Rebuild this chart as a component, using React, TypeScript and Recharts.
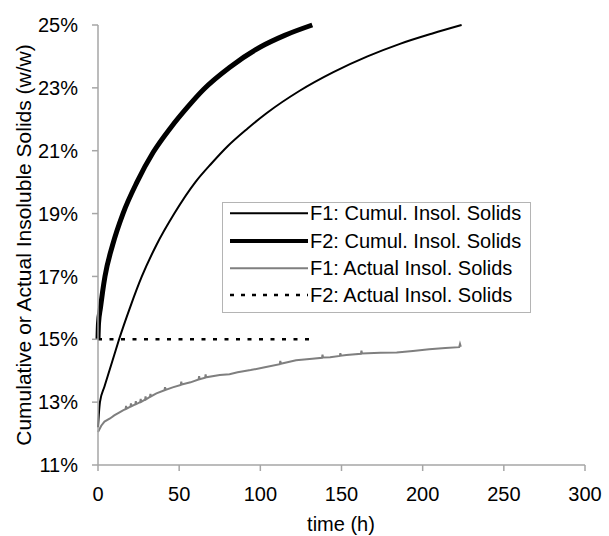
import React from 'react';
import { LineChart, Line, XAxis, YAxis, Legend, Label } from 'recharts';

// time (h) and % w/w
const f1CumulT = [0, 0.5, 1.2, 4, 7, 10, 13, 20, 27, 36, 47, 60, 70, 80, 92, 104, 124, 145, 166, 186, 206, 224];
const f1CumulV = [12.2, 12.6, 13.0, 13.5, 14.0, 14.5, 15.0, 16.05, 17.0, 18.0, 19.0, 20.0, 20.6, 21.15, 21.7, 22.2, 22.9, 23.5, 24.0, 24.4, 24.73, 25.0];

const f2CumulT = [0, 0.3, 1.5, 2.8, 4.3, 9, 15.4, 24, 34, 45, 55, 65, 81, 100, 115, 132];
const f2CumulV = [15.0, 15.5, 16.0, 16.5, 17.0, 18.0, 19.0, 20.0, 20.95, 21.75, 22.38, 22.95, 23.65, 24.3, 24.67, 25.0];

const f1ActualT = [0, 2, 4, 7.4, 10, 13, 15.4, 17, 17.3, 17.6, 20, 20.3, 20.6, 23, 23.3, 23.6, 26, 26.3, 26.6, 29, 29.3, 29.6, 32, 32.3, 32.6, 36, 41, 41.3, 41.6, 46, 51, 51.3, 51.6, 57, 62, 62.3, 62.6, 66, 66.3, 66.6, 75, 81, 86, 94, 102, 112, 112.3, 112.6, 122, 132, 138, 138.3, 138.6, 143, 149, 149.3, 149.6, 153, 162, 162.3, 162.6, 174, 184, 194, 204, 214, 222.5, 223, 223.5];
const f1ActualV = [12.05, 12.25, 12.38, 12.48, 12.58, 12.67, 12.74, 12.78, 12.88, 12.79, 12.86, 12.96, 12.87, 12.93, 13.03, 12.94, 13.0, 13.1, 13.01, 13.08, 13.18, 13.09, 13.17, 13.26, 13.18, 13.28, 13.38, 13.48, 13.39, 13.47, 13.55, 13.65, 13.56, 13.63, 13.72, 13.83, 13.73, 13.78, 13.88, 13.79, 13.86, 13.89, 13.95, 14.02, 14.1, 14.21, 14.31, 14.22, 14.33, 14.38, 14.41, 14.51, 14.42, 14.43, 14.47, 14.56, 14.48, 14.5, 14.54, 14.64, 14.55, 14.57, 14.58, 14.63, 14.68, 14.72, 14.75, 14.85, 14.76];

const f2ActualT = [0, 133];
const f2ActualV = [15, 15];

const xTicks = [0, 50, 100, 150, 200, 250, 300];
const yTicks = [11, 13, 15, 17, 19, 21, 23, 25];

const toData = (ts: number[], vs: number[]) => ts.map((t, i) => ({ t, v: vs[i] }));

const series = [
  { name: 'F1: Cumul. Insol. Solids', data: toData(f1CumulT, f1CumulV), color: '#000', width: 2, dash: undefined, curve: 'monotone' },
  { name: 'F2: Cumul. Insol. Solids', data: toData(f2CumulT, f2CumulV), color: '#000', width: 5, dash: undefined, curve: 'monotone' },
  { name: 'F1: Actual Insol. Solids', data: toData(f1ActualT, f1ActualV), color: '#7f7f7f', width: 2, dash: undefined, curve: 'linear' },
  { name: 'F2: Actual Insol. Solids', data: toData(f2ActualT, f2ActualV), color: '#000', width: 2.5, dash: '4 7.5', curve: 'linear' },
];

const font = '"Liberation Sans", Arial, sans-serif';
const axisColor = '#a6a6a6';

const LegendBox = () => {
  const rows = [11.3, 39, 66.3, 93];
  return (
    <svg width={309} height={111} style={{ display: 'block' }}>
      <rect x={0.5} y={0.5} width={308} height={110} fill="#fff" stroke="#b4b4b4" />
      {series.map((s, i) => (
        <g key={s.name}>
          <line x1={8} x2={86} y1={rows[i]} y2={rows[i]} stroke={s.color} strokeWidth={s.width === 5 ? 4 : s.width} strokeDasharray={s.dash ? '4 7' : undefined} />
          <text x={88} y={rows[i]} dominantBaseline="central" fontSize={20} fontFamily={font} fill="#000">{s.name}</text>
        </g>
      ))}
    </svg>
  );
};

export default function App() {
  return (
    <div style={{ position: 'absolute', left: 0, top: 0, background: '#fff' }}>
      <LineChart width={609} height={536} margin={{ top: 25, right: 24, bottom: 0, left: 0 }}>
        <XAxis
          dataKey="t"
          type="number"
          domain={[0, 300]}
          ticks={xTicks}
          allowDuplicatedCategory={false}
          height={71}
          tickSize={6}
          tickMargin={16}
          stroke={axisColor}
          strokeWidth={1.5}
          tick={{ fill: '#000', fontSize: 20, fontFamily: font }}
        >
          <Label
            content={() => (
              <text x={341} y={531} textAnchor="middle" fontSize={20} fontFamily={font} fill="#000">time (h)</text>
            )}
          />
        </XAxis>
        <YAxis
          type="number"
          domain={[11, 25]}
          ticks={yTicks}
          width={98}
          tickSize={6}
          tickMargin={14}
          stroke={axisColor}
          strokeWidth={1.5}
          tickFormatter={(v: number) => `${v}%`}
          tick={{ fill: '#000', fontSize: 20, fontFamily: font }}
        >
          <Label
            content={() => (
              <text x={31} y={245} transform="rotate(-90, 31, 245)" textAnchor="middle" fontSize={21} fontFamily={font} fill="#000">
                Cumulative or Actual Insoluble Solids (w/w)
              </text>
            )}
          />
        </YAxis>
        <Legend
          layout="vertical"
          align="center"
          verticalAlign="middle"
          content={() => <LegendBox />}
          wrapperStyle={{ left: 222, top: 202, width: 309, height: 111 }}
        />
        {series.map((s) => (
          <Line
            key={s.name}
            name={s.name}
            data={s.data}
            dataKey="v"
            type={s.curve as 'monotone' | 'linear'}
            stroke={s.color}
            strokeWidth={s.width}
            strokeDasharray={s.dash}
            dot={false}
            activeDot={false}
            isAnimationActive={false}
          />
        ))}
      </LineChart>
    </div>
  );
}
